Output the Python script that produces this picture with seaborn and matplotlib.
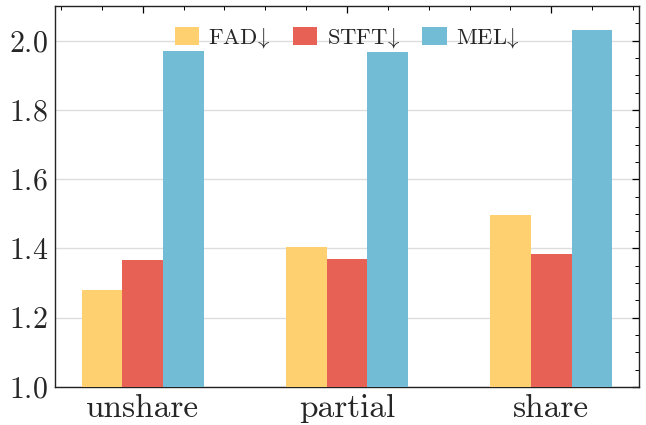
import matplotlib
matplotlib.use("Agg")
import matplotlib.pyplot as plt
from matplotlib.ticker import MultipleLocator
import seaborn as sns
import pandas as pd

categories = ["unshare", "partial", "share"]
series = ["FAD$\\!\\downarrow$", "STFT$\\!\\downarrow$", "MEL$\\!\\downarrow$"]
fad = [1.280, 1.404, 1.496]
stft = [1.366, 1.369, 1.384]
mel = [1.969, 1.966, 2.030]
colors = ["#FFD06F", "#E76254", "#72BCD5"]

sns.set_style("white")
plt.rcParams["font.family"] = ["serif"]
plt.rcParams["font.serif"] = ["cmr10", "DejaVu Serif"]
plt.rcParams["mathtext.fontset"] = "cm"
plt.rcParams["axes.formatter.use_mathtext"] = True

rows = []
for name, vals in zip(series, [fad, stft, mel]):
    for c, v in zip(categories, vals):
        rows.append({"cat": c, "metric": name, "value": v})
df = pd.DataFrame(rows)

fig = plt.figure(figsize=(6.46, 4.25), dpi=100)
ax = fig.add_axes([55 / 646, 1 - 387 / 425, (639 - 55) / 646, (387 - 6) / 425])
sns.barplot(data=df, x="cat", y="value", hue="metric", order=categories,
            hue_order=series, palette=colors, width=0.6, gap=0,
            saturation=1, ax=ax, errorbar=None, zorder=3, linewidth=0,
            edgecolor="none")

ax.set_ylim(1.0, 2.1)
ax.set_xlim(-0.43, 2.43)
ax.set_xlabel("")
ax.set_ylabel("")
ax.yaxis.set_major_locator(MultipleLocator(0.2))
ax.yaxis.set_minor_locator(MultipleLocator(0.05))
ax.xaxis.set_minor_locator(MultipleLocator(0.2))
ax.yaxis.grid(True, which="major", color="#dddddd", linewidth=1.0, zorder=0)
ax.xaxis.grid(False)
ax.set_axisbelow(True)
ax.tick_params(which="both", direction="in", top=True, right=True, color="black")
ax.tick_params(which="major", length=5, width=0.9)
ax.tick_params(which="minor", length=3, width=0.7)
ax.tick_params(axis="y", labelsize=21.5, pad=5)
ax.tick_params(axis="x", labelsize=24, pad=5)
for s in ax.spines.values():
    s.set_color("#222222")
    s.set_linewidth(1.0)

ax.legend(loc="upper center", ncol=3, frameon=False, fontsize=16.3,
          handlelength=1.1, handleheight=0.8, handletextpad=0.4,
          columnspacing=0.95, bbox_to_anchor=(0.5, 1.0))

fig.savefig("out.png", dpi=100)
